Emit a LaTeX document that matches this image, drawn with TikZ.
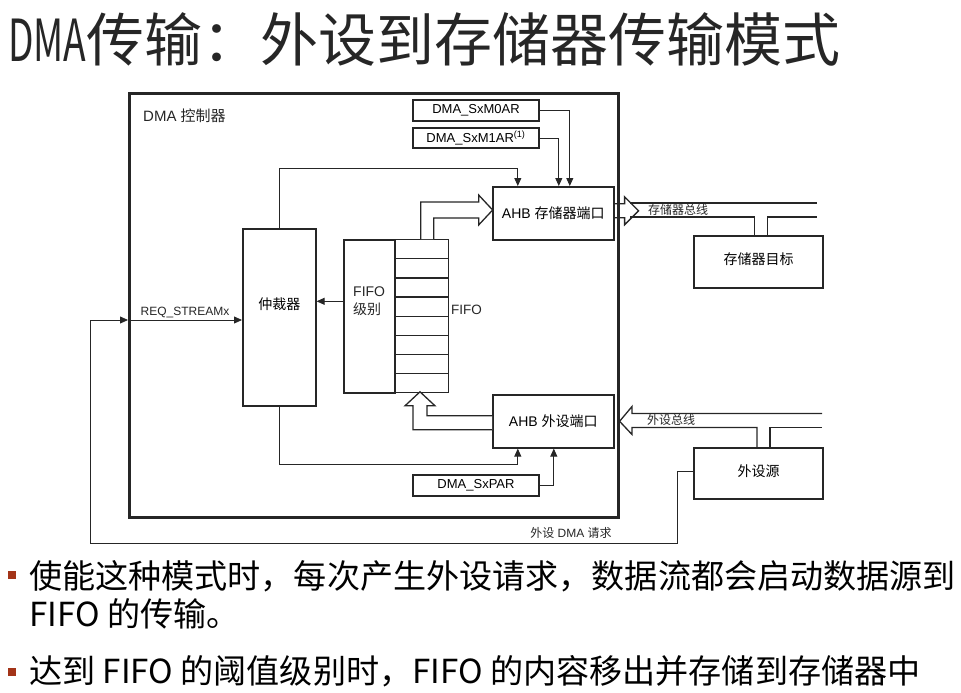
\documentclass[tikz,border=0pt]{standalone}
\usepackage{fontspec}
\usepackage{graphicx}
\setmainfont{Liberation Sans}
\newfontfamily\cjk{Noto Sans CJK SC}
\usetikzlibrary{arrows.meta,positioning}
\definecolor{bulletred}{RGB}{163,52,24}
\definecolor{inkgray}{RGB}{38,38,38}

\tikzset{
  box/.style={draw=inkgray, line width=1.6pt, anchor=north west, inner sep=0pt, font=\fontsize{13}{15}\selectfont},
  regbox/.style={box, line width=2pt},
  cell/.style={draw=inkgray, line width=1.3pt, anchor=north west, minimum width=54, minimum height=19.125},
  wire/.style={draw=inkgray, line width=0.8pt},
  sig/.style={wire, -{Triangle[length=8pt,width=7pt]}},
  fat/.style={draw=inkgray, line width=1.3pt, line join=miter},
  txt/.style={inner sep=0pt, text=inkgray},
  bullet/.style={fill=bulletred, minimum size=7.5, inner sep=0pt},
}

\begin{document}
\begin{tikzpicture}[x=1pt,y=-1pt]
\useasboundingbox (0,0) rectangle (961,693);
% title
\node[txt, anchor=base west, font=\cjk\fontsize{58}{60}\selectfont] (title) at (8,62) {\scalebox{0.64}[1]{DMA}传输：外设到存储器传输模式};

% DMA controller
\node[box, line width=3pt, minimum width=489, minimum height=424] (ctrl) at (128,92) {};
\node[txt, anchor=west, font=\fontsize{15}{17}\selectfont] (ctrlname) at (143,116) {DMA {\cjk 控制器}};
\node[regbox, minimum width=126, minimum height=21] (m0ar) at (412,99) {DMA\_SxM0AR};
\node[regbox, minimum width=126, minimum height=20] (m1ar) at (412,127) {DMA\_SxM1AR\textsuperscript{(1)}};
\node[box, minimum width=121, minimum height=53, font=\fontsize{14}{16}\selectfont] (memport) at (492,186) {AHB {\cjk 存储器端口}};
\node[box, minimum width=121, minimum height=53, font=\fontsize{14}{16}\selectfont] (perport) at (492,394) {AHB {\cjk 外设端口}};
\node[regbox, minimum width=126, minimum height=21] (par) at (412,474) {DMA\_SxPAR};
\node[box, minimum width=73, minimum height=177, font=\cjk\fontsize{14}{16}\selectfont] (arb) at (242,228) {\raisebox{27pt}{仲裁器}};

% FIFO
\node[box, minimum width=51, minimum height=153] (fifolevel) at (343,239) {};
\node[txt, anchor=west, align=left, font=\fontsize{14}{18}\selectfont] (lvltxt) at (353,301) {FIFO\\{\cjk 级别}};
\foreach \i in {0,...,7}
  \node[cell] (cell\i) at (394,239+\i*19.125) {};
\node[txt, anchor=west, font=\fontsize{13.5}{16}\selectfont] (fifotxt) at (451,310) {FIFO};

% targets outside
\node[regbox, minimum width=129, minimum height=52, font=\cjk\fontsize{14}{16}\selectfont] (memtgt) at (693,235) {\raisebox{6pt}{存储器目标}};
\node[regbox, minimum width=129, minimum height=51, font=\cjk\fontsize{14}{16}\selectfont] (persrc) at (693,447) {\raisebox{6pt}{外设源}};

% control signals
\draw[sig] (m0ar.east) -| ([xshift=16.5pt]memport.north);
\draw[sig] (m1ar.east) -| ([xshift=5.5pt]memport.north);
\draw[sig] (arb.north) -- ++(0,-60) -| ([xshift=-35.5pt]memport.north);
\draw[sig] (arb.south) -- ++(0,58) -| ([xshift=-35.5pt]perport.south);
\draw[sig] (par.east) -| ([xshift=0.5pt]perport.south);
\draw[sig] ([yshift=15pt]fifolevel.west) coordinate (lvlout) -- (lvlout -| arb.east);

% request
\coordinate (reqturn) at (90,543);
\coordinate (reqin) at (ctrl.west |- 0,320);
\draw[sig] ([yshift=2pt]persrc.west) -- ++(-16,0) |- (reqturn) |- (reqin);
\draw[sig] (reqin) -- (reqin -| arb.west) node[midway, above=2pt, txt, font=\fontsize{12}{14}\selectfont] (reqlabel) {REQ\_STREAMx};
\node[txt, font=\fontsize{12}{14}\selectfont] (reqname) at (571,533) {{\cjk 外设} DMA {\cjk 请求}};

% data paths
\draw[fat, fill=white] ([xshift=-1pt]cell0.north) -- ++(0,-37) -- ++(58,0) -- ++(0,-7) -- ++(14,15) -- ++(-14,15) -- ++(0,-7) -- ++(-45,0) -- ++(0,21);
\draw[fat, fill=white] ([yshift=-8.5pt]perport.west) -- ++(-79,0) -- ++(0,-24) -- ++(-8,0) -- ++(15,-14) -- ++(15,14) -- ++(-8,0) -- ++(0,10) -- ++(65,0);

% memory bus
\draw[fat] ([yshift=9.5pt]memport.east) -- ++(10,0) -- ++(0,-7) -- ++(14,14) -- ++(-14,14) -- ++(0,-7) -- ++(-10,0);
\draw[fat] (630,203) -- (817,203);
\draw[fat] ([xshift=-4pt]memtgt.north) |- (630,217);
\draw[fat] ([xshift=9pt]memtgt.north) |- (817,217);
\node[txt, font=\cjk\fontsize{12}{14}\selectfont] (membus) at (678,210) {存储器总线};

% peripheral bus
\draw[fat] (822,413.5) -- (632,413.5) -- (632,406.5) -- ([xshift=5pt]perport.east) -- (632,434.5) -- (632,427.5) -| ([xshift=-1.5pt]persrc.north);
\draw[fat] ([xshift=11.5pt]persrc.north) |- (822,427.5);
\node[txt, font=\cjk\fontsize{12}{14}\selectfont] (perbus) at (671,420) {外设总线};

% bullets
\node[bullet] (dot1) at (12,575) {};
\node[txt, anchor=base west, text=black, font=\cjk\fontsize{33.1}{38}\selectfont] (line1) at (29,588) {使能这种模式时，每次产生外设请求，数据流都会启动数据源到};
\node[txt, anchor=base west, text=black, font=\cjk\fontsize{33.1}{38}\selectfont] (line2) at (29,626) {FIFO 的传输。};
\node[bullet] (dot2) at (12,672) {};
\node[txt, anchor=base west, text=black, font=\cjk\fontsize{33.1}{38}\selectfont] (line3) at (29,683) {达到 FIFO 的阈值级别时，FIFO 的内容移出并存储到存储器中};
\end{tikzpicture}
\end{document}
